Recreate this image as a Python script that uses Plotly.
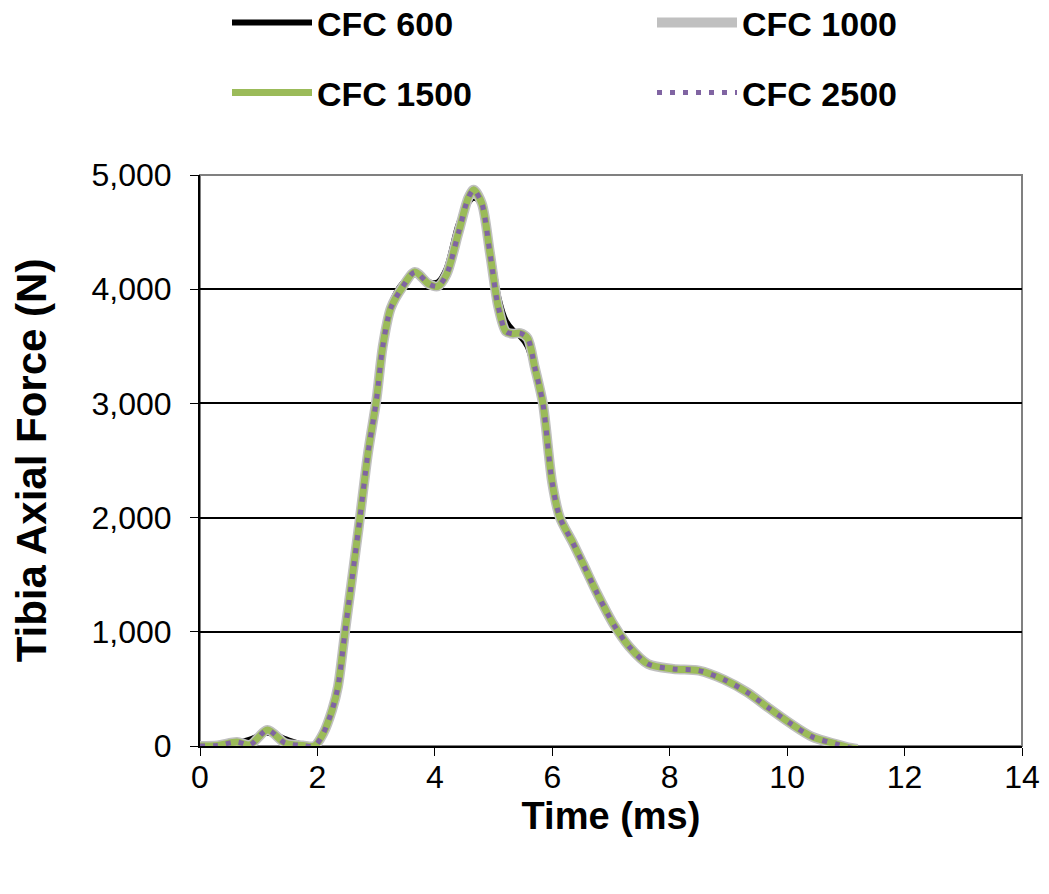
import plotly.graph_objects as go

# ---- data ----
time_ms = [0, 0.3, 0.63, 0.85, 1.15, 1.45, 1.75, 1.95, 2.1, 2.25,
           2.35, 2.47, 2.7, 2.86, 3.01, 3.11, 3.25, 3.45, 3.66, 3.9,
           4.05, 4.2, 4.4, 4.57, 4.66, 4.8, 4.94, 5.08, 5.21, 5.33,
           5.45, 5.58, 5.7, 5.84, 6.0, 6.13, 6.35, 6.52, 6.76, 7.05,
           7.31, 7.63, 8.06, 8.5, 8.93, 9.32, 9.68, 10.05, 10.43, 10.85,
           11.07, 11.2]

cfc600 = [0, 10, 25, 55, 115, 60, 10, 0, 100, 300,
          500, 1000, 1920, 2580, 3080, 3520, 3860, 4050, 4130, 4060,
          4060, 4180, 4560, 4760, 4800, 4760, 4380, 3930, 3720, 3640,
          3590, 3500, 3300, 3010, 2330, 2030, 1800, 1620, 1350, 1070,
          880, 725, 685, 670, 590, 480, 345, 210, 90, 20,
          -10, -20]

cfc1000 = [0, 5, 35, 10, 140, 25, 5, 0, 110, 315,
           520, 1000, 1900, 2560, 3050, 3490, 3835, 4020, 4150, 4045,
           4025, 4130, 4490, 4800, 4870, 4750, 4310, 3845, 3630, 3610,
           3615, 3570, 3320, 3000, 2300, 2000, 1780, 1600, 1340, 1060,
           870, 718, 675, 660, 580, 470, 335, 200, 80, 15,
           -15, -25]

cfc1500 = [0, 5, 35, 10, 140, 25, 5, 0, 110, 315,
           520, 1000, 1900, 2560, 3050, 3490, 3835, 4020, 4150, 4045,
           4025, 4130, 4490, 4800, 4870, 4750, 4310, 3845, 3630, 3610,
           3615, 3570, 3320, 3000, 2300, 2000, 1780, 1600, 1340, 1060,
           870, 718, 675, 660, 580, 470, 335, 200, 80, 15,
           -15, -25]

cfc2500 = [0, 5, 35, 10, 140, 25, 5, 0, 110, 315,
           520, 1000, 1900, 2560, 3050, 3490, 3835, 4020, 4150, 4045,
           4025, 4130, 4490, 4800, 4870, 4750, 4310, 3845, 3630, 3610,
           3615, 3570, 3320, 3000, 2300, 2000, 1780, 1600, 1340, 1060,
           870, 718, 675, 660, 580, 470, 335, 200, 80, 15,
           -15, -25]

x_ticks = [0, 2, 4, 6, 8, 10, 12, 14]
y_ticks = [0, 1000, 2000, 3000, 4000, 5000]
y_tick_labels = ["0", "1,000", "2,000", "3,000", "4,000", "5,000"]

FONT = "Liberation Sans, Arial, sans-serif"
W, H = 1049, 894

fig = go.Figure()
fig.add_trace(go.Scatter(x=time_ms, y=cfc600, name="CFC 600", mode="lines",
                         line=dict(color="#000000", width=6, shape="spline", smoothing=0.8),
                         legend="legend", showlegend=True))
fig.add_trace(go.Scatter(x=time_ms, y=cfc1000, name="CFC 1000", mode="lines",
                         line=dict(color="#C0C0C0", width=10, shape="spline", smoothing=0.8),
                         legend="legend2", showlegend=True))
fig.add_trace(go.Scatter(x=time_ms, y=cfc1500, name="CFC 1500", mode="lines",
                         line=dict(color="#9BBB59", width=7, shape="spline", smoothing=0.8),
                         legend="legend3", showlegend=True))
fig.add_trace(go.Scatter(x=time_ms, y=cfc2500, name="CFC 2500", mode="lines",
                         line=dict(color="#8064A2", width=5, shape="spline", smoothing=0.8,
                                   dash="5px,8px"),
                         legend="legend4", showlegend=True))

legend_common = dict(orientation="h", xref="container", yref="container",
                     xanchor="left", yanchor="middle", visible=True,
                     font=dict(family=FONT, size=34, color="#000000", weight="bold"),
                     itemwidth=80, bgcolor="rgba(0,0,0,0)")

col1_x, col2_x = 219 / W, 644 / W
row1_y, row2_y = 1 - 15 / H, 1 - 85 / H

fig.update_layout(
    width=W, height=H, showlegend=True,
    paper_bgcolor="white", plot_bgcolor="white",
    margin=dict(l=192, r=35, t=167, b=156),
    font=dict(family=FONT, color="#000000"),
    legend=dict(legend_common, x=col1_x, y=row1_y),
    legend2=dict(legend_common, x=col2_x, y=row1_y),
    legend3=dict(legend_common, x=col1_x, y=row2_y),
    legend4=dict(legend_common, x=col2_x, y=row2_y),
    xaxis=dict(range=[0, 14], tickvals=x_ticks, ticks="outside", ticklen=8,
               tickcolor="#000000", showline=True, linecolor="#000000", linewidth=2,
               showgrid=False, zeroline=False, automargin=False,
               ticklabelstandoff=-6,
               tickfont=dict(family=FONT, size=32, color="#000000"),
               title=dict(text="Time (ms)", standoff=8,
                          font=dict(family=FONT, size=38, color="#000000", weight="bold"))),
    yaxis=dict(range=[0, 5000], tickvals=y_ticks, ticktext=y_tick_labels,
               ticks="outside", ticklen=8, tickcolor="#000000",
               showline=True, linecolor="#000000", linewidth=2,
               showgrid=True, gridcolor="#000000", gridwidth=2, zeroline=False,
               automargin=False, ticklabelstandoff=12,
               tickfont=dict(family=FONT, size=32, color="#000000"),
               title=dict(text="Tibia Axial Force (N)", standoff=40,
                          font=dict(family=FONT, size=42, color="#000000", weight="bold"))),
    shapes=[dict(type="rect", xref="paper", yref="paper", x0=0, x1=1, y0=0, y1=1,
                 line=dict(color="#808080", width=2), layer="below")],
)

fig.write_html("out.html")
